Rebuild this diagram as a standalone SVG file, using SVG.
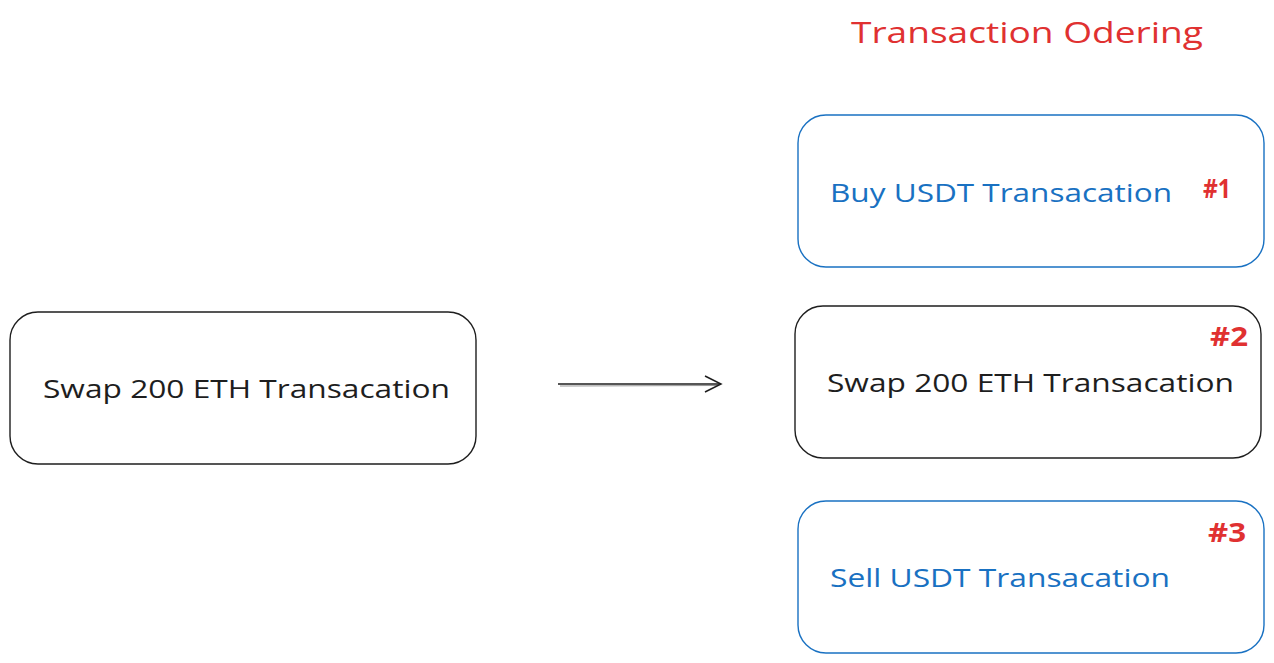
<svg xmlns="http://www.w3.org/2000/svg" width="1274" height="663" viewBox="0 0 1274 663">
<defs>
<style>
.box{fill:#ffffff;stroke-width:1.4}
.blue{stroke:#1971c2}
.black{stroke:#1e1e1e}
text{font-family:"Open Sans","Liberation Sans",sans-serif}
.lbl{font-size:26px}
.tb{fill:#1971c2}
.tk{fill:#1e1e1e}
.tr{fill:#e03131}
.num{font-weight:bold}
</style>
<marker id="ah" viewBox="0 0 20 20" refX="18" refY="10" markerWidth="20" markerHeight="20" markerUnits="userSpaceOnUse" orient="auto">
<path d="M2,2 L18,10 L2,18" fill="none" stroke="#1e1e1e" stroke-width="1.5"/>
</marker>
</defs>
<rect width="1274" height="663" fill="#ffffff"/>
<text id="title" x="1027" y="43" text-anchor="middle" class="tr" font-size="30" textLength="352" lengthAdjust="spacingAndGlyphs">Transaction Odering</text>
<g id="connectors">
<path d="M558,384 L721,384" fill="none" stroke="#1e1e1e" stroke-width="1.5" marker-end="url(#ah)"/>
<path d="M560,386 L718,385.5" fill="none" stroke="#1e1e1e" stroke-width="0.8" opacity="0.6"/>
</g>
<g id="source">
<rect class="box black" x="10" y="312" width="466" height="152" rx="28"/>
<text class="lbl tk" x="43" y="398" textLength="407" lengthAdjust="spacingAndGlyphs">Swap 200 ETH Transacation</text>
</g>
<g id="tx1">
<rect class="box blue" x="798" y="115" width="466" height="152" rx="28"/>
<text class="lbl tb" x="830" y="202" textLength="342" lengthAdjust="spacingAndGlyphs">Buy USDT Transacation</text>
<text class="lbl tr num" x="1203" y="198" textLength="28" lengthAdjust="spacingAndGlyphs">#1</text>
</g>
<g id="tx2">
<rect class="box black" x="795" y="306" width="466" height="152" rx="28"/>
<text class="lbl tk" x="827" y="392" textLength="407" lengthAdjust="spacingAndGlyphs">Swap 200 ETH Transacation</text>
<text class="lbl tr num" x="1210" y="346" textLength="38" lengthAdjust="spacingAndGlyphs">#2</text>
</g>
<g id="tx3">
<rect class="box blue" x="798" y="501" width="466" height="152" rx="28"/>
<text class="lbl tb" x="830" y="587" textLength="340" lengthAdjust="spacingAndGlyphs">Sell USDT Transacation</text>
<text class="lbl tr num" x="1208" y="542" textLength="38" lengthAdjust="spacingAndGlyphs">#3</text>
</g>
</svg>
